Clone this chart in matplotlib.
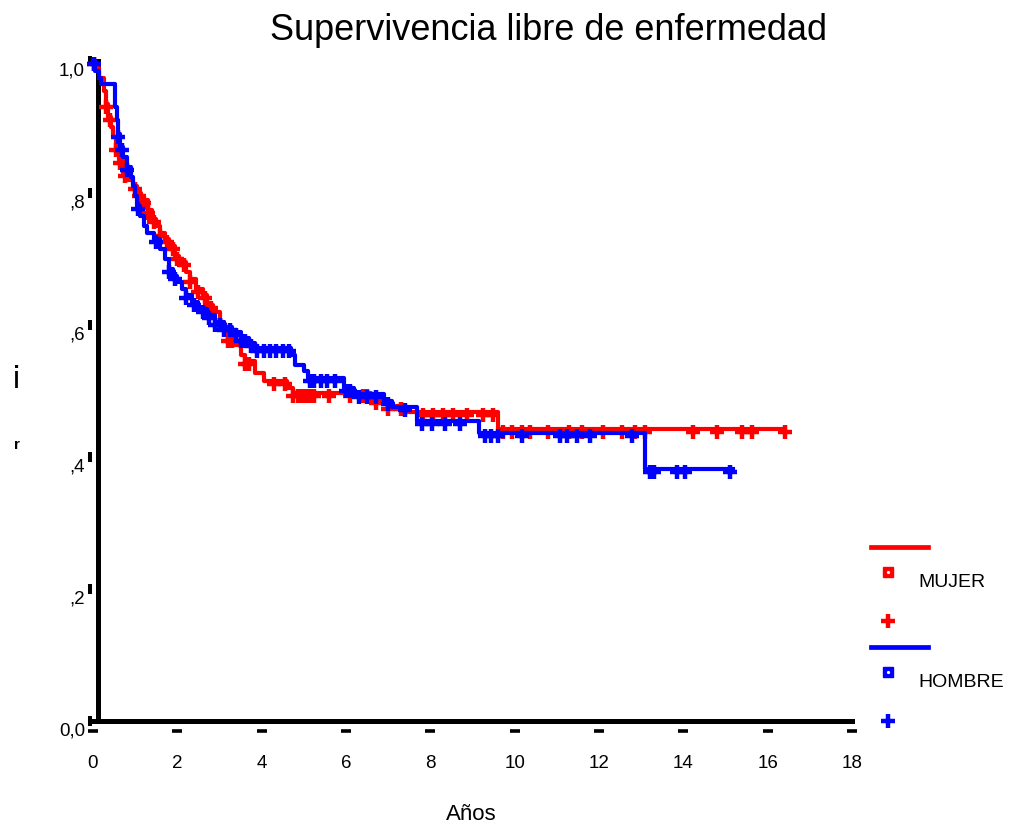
import numpy as np
import matplotlib.pyplot as plt
from matplotlib.lines import Line2D
from matplotlib.transforms import ScaledTranslation, blended_transform_factory

plt.rcParams['font.family'] = ['Liberation Sans', 'DejaVu Sans']

# Kaplan-Meier steps (time in years, survival)
t_mujer = [0, 0.05, 0.15, 0.25, 0.3, 0.35, 0.42, 0.48, 0.55, 0.62, 0.7, 0.8, 0.95, 1.05,
           1.15, 1.3, 1.4, 1.5, 1.6, 1.7, 1.8, 1.95, 2.05, 2.2, 2.3, 2.45, 2.6, 2.7, 2.85,
           3.0, 3.1, 3.2, 3.35, 3.5, 3.6, 3.85, 4.05, 4.6, 4.75, 6.6, 7.0, 7.4, 9.6, 16.4]
s_mujer = [1.0, 0.99, 0.975, 0.955, 0.935, 0.915, 0.9, 0.885, 0.87, 0.85, 0.83, 0.82, 0.81, 0.8,
           0.79, 0.775, 0.76, 0.75, 0.74, 0.73, 0.72, 0.705, 0.695, 0.68, 0.67, 0.655, 0.645, 0.63, 0.62,
           0.605, 0.595, 0.58, 0.57, 0.555, 0.545, 0.527, 0.515, 0.505, 0.497, 0.487, 0.478, 0.468, 0.443, 0.443]
c_mujer = [0.02, 0.3, 0.4, 0.55, 0.65, 0.75, 1.0, 1.1, 1.2, 1.3, 1.45, 1.6, 1.75, 1.9, 2.0,
           2.15, 2.3, 2.5, 2.65, 2.8, 3.0, 3.2, 3.3, 3.6, 3.7, 4.3, 4.55, 4.75, 4.85, 4.95,
           5.05, 5.15, 5.25, 5.6, 6.1, 6.4, 6.5, 6.7, 7.0, 7.3, 7.82, 8.06, 8.3, 8.54, 8.87,
           9.25, 9.48, 9.72, 9.93, 10.17, 10.36, 10.8, 11.3, 11.6, 12.09, 12.54, 12.85,
           13.08, 14.22, 14.79, 15.4, 15.64, 16.4]

t_hombre = [0, 0.05, 0.15, 0.2, 0.52, 0.56, 0.6, 0.65, 0.7, 0.8, 0.9, 0.95, 1.0, 1.05, 1.12,
            1.2, 1.28, 1.45, 1.6, 1.7, 1.8, 1.9, 2.0, 2.1, 2.2, 2.35, 2.5, 2.7, 2.9, 3.1,
            3.3, 3.5, 3.7, 3.85, 4.7, 4.8, 5.0, 5.1, 5.95, 6.2, 6.9, 7.1, 7.68, 9.15, 13.09, 15.17]
s_hombre = [1.0, 0.985, 0.975, 0.965, 0.93, 0.91, 0.89, 0.87, 0.855, 0.84, 0.825, 0.81, 0.795, 0.78, 0.765,
            0.75, 0.74, 0.73, 0.715, 0.7, 0.685, 0.675, 0.665, 0.655, 0.645, 0.635, 0.625, 0.615, 0.605, 0.597,
            0.59, 0.58, 0.572, 0.565, 0.555, 0.54, 0.53, 0.52, 0.505, 0.495, 0.485, 0.476, 0.455, 0.436, 0.382, 0.382]
c_hombre = [0.02, 0.6, 0.69, 0.8, 1.07, 1.5, 1.8, 1.95, 2.2, 2.4, 2.6, 2.75, 2.9, 3.0, 3.1,
            3.25, 3.4, 3.5, 3.6, 3.75, 3.9, 4.05, 4.2, 4.35, 4.5, 4.65, 5.15, 5.25, 5.4, 5.55,
            5.75, 6.0, 6.1, 6.3, 6.5, 6.7, 7.0, 7.4, 7.8, 8.04, 8.35, 8.7, 9.3, 9.45, 9.6,
            10.17, 11.07, 11.24, 11.48, 11.79, 12.78, 13.2, 13.3, 13.85, 14.03, 15.1]

x_ticks = [0, 2, 4, 6, 8, 10, 12, 14, 16, 18]
y_ticks = [0.0, 0.2, 0.4, 0.6, 0.8, 1.0]
y_labels = ['0,0', ',2', ',4', ',6', ',8', '1,0']

fig = plt.figure(figsize=(10.11, 8.29), dpi=100)
ax = fig.add_axes([93 / 1011, 1 - 722 / 829, 759 / 1011, 660 / 829])
ax.set_xlim(0, 18)
ax.set_ylim(0, 1)

def censor_y(t, s, c):
    idx = np.searchsorted(t, c, side='right') - 1
    return np.array(s)[idx]

# crosses sit a few pixels below the line in the original
shift = ax.transData + ScaledTranslation(0, -0.03, fig.dpi_scale_trans)

for t, s, c, col in [(t_mujer, s_mujer, c_mujer, '#ff0000'),
                     (t_hombre, s_hombre, c_hombre, '#0000ff')]:
    ax.step(t, s, where='post', color=col, lw=3.0, clip_on=False, zorder=3)
    ax.plot(c, censor_y(t, s, c), '+', color=col, ms=10, mew=3.2,
            transform=shift, clip_on=False, zorder=3)

# axes frame
for side in ['top', 'right']:
    ax.spines[side].set_visible(False)
ax.spines['left'].set_position(('axes', 0.006))
ax.spines['left'].set_linewidth(3.6)
ax.spines['bottom'].set_linewidth(3.6)
ax.spines['left'].set_zorder(2)
ax.spines['bottom'].set_zorder(2)

ax.set_xticks(x_ticks)
ax.set_yticks(y_ticks)
ax.set_yticklabels(y_labels)
ax.tick_params(length=0, labelsize=13.5)
ax.tick_params(axis='x', pad=24)
ax.tick_params(axis='y', pad=9)
for lab in ax.get_yticklabels():
    lab.set_transform(lab.get_transform() + ScaledTranslation(0, -0.07, fig.dpi_scale_trans))

# little dash tick marks, detached from the axis lines
bx = blended_transform_factory(ax.transData, ax.transAxes)
by = blended_transform_factory(ax.transAxes, ax.transData)
ax.plot(x_ticks, [-0.015] * len(x_ticks), '_', color='black', ms=7.5, mew=2.6,
        transform=bx, clip_on=False)
ax.plot([-0.004] * len(y_ticks), y_ticks, '|', color='black', ms=6.5, mew=2.9,
        transform=by, clip_on=False)

fig.text(548 / 1011, 1 - 30 / 829, 'Supervivencia libre de enfermedad',
         ha='center', va='center', fontsize=26)
fig.text(471 / 1011, 1 - 815 / 829, 'Años', ha='center', va='center', fontsize=16)
fig.text(17 / 1011, 1 - 374 / 829, '¡', ha='center', va='center', fontsize=24)
fig.text(17 / 1011, 1 - 445 / 829, 'r', ha='center', va='center', fontsize=11,
         fontweight='bold')

# legend drawn by hand, SPSS style
def fx(px):
    return px / 1011

def fy(py):
    return 1 - py / 829

for name, col, y0 in [('MUJER', '#ff0000', 548), ('HOMBRE', '#0000ff', 648)]:
    fig.add_artist(Line2D([fx(871), fx(928)], [fy(y0), fy(y0)], color=col, lw=3.4))
    fig.add_artist(Line2D([fx(888)], [fy(y0 + 25)], marker='s', ms=6.5, color=col))
    fig.add_artist(Line2D([fx(888)], [fy(y0 + 25)], marker='o', ms=1.3, color='white'))
    fig.add_artist(Line2D([fx(888)], [fy(y0 + 74)], marker='+', ms=10, mew=3.2, color=col))
    fig.text(fx(918), fy(y0 + 35), name, ha='left', va='center', fontsize=14)

fig.savefig('out.png', dpi=100)
